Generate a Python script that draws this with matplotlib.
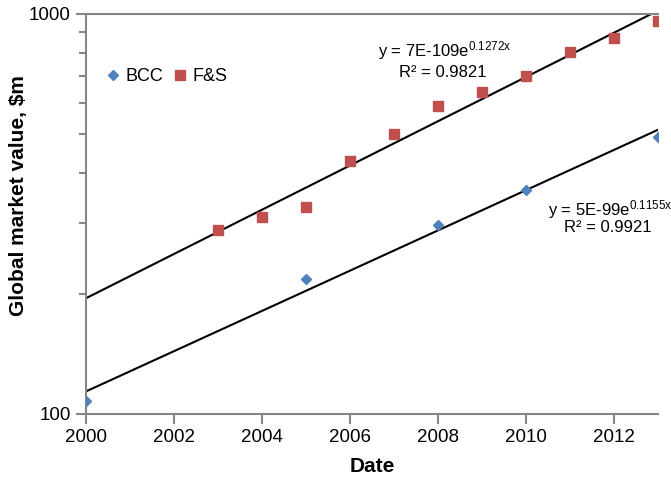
import numpy as np
import matplotlib
matplotlib.use("Agg")
import matplotlib.pyplot as plt
from matplotlib.ticker import LogLocator, FixedLocator, NullFormatter, FixedFormatter

plt.rcParams['font.family'] = ['Liberation Sans', 'DejaVu Sans']
plt.rcParams['mathtext.fontset'] = 'custom'
plt.rcParams['mathtext.rm'] = 'Liberation Sans'
plt.rcParams['mathtext.it'] = 'Liberation Sans'

# data
bcc_years = [2000, 2005, 2008, 2010, 2013]
bcc_values = [108, 217, 297, 363, 491]
fs_years = [2003, 2004, 2005, 2006, 2007, 2008, 2009, 2010, 2011, 2012, 2013]
fs_values = [289, 310, 330, 430, 500, 590, 639, 700, 802, 869, 961]

blue = "#4F81BD"
red = "#C0504D"
grey = "#868686"

fig = plt.figure(figsize=(6.71, 4.79), dpi=100)
ax = fig.add_axes([0.128, 0.1357, 0.853, 0.8353])

ax.plot(bcc_years, bcc_values, "D", color=blue, ms=5.5, label="BCC", zorder=3)
ax.plot(fs_years, fs_values, "s", color=red, ms=7, label="F&S", zorder=3)

# exponential trendlines (least squares on log values)
xx = np.linspace(2000, 2013, 50)
for yrs, vals in [(bcc_years, bcc_values), (fs_years, fs_values)]:
    b, a = np.polyfit(yrs, np.log(vals), 1)
    ax.plot(xx, np.exp(a + b * xx), color="black", lw=1.5, zorder=2)

ax.text(2008.16, 810, "y = 7E-109e$^{0.1272x}$", ha="center", va="center", fontsize=12)
ax.text(2008.1, 712, "R² = 0.9821", ha="center", va="center", fontsize=12)
ax.text(2011.9, 324, "y = 5E-99e$^{0.1155x}$", ha="center", va="center", fontsize=12)
ax.text(2011.85, 292, "R² = 0.9921", ha="center", va="center", fontsize=12)

ax.set_yscale("log")
ax.set_xlim(2000, 2013)
ax.set_ylim(100, 1000)
ax.xaxis.set_major_locator(FixedLocator(range(2000, 2013, 2)))
ax.yaxis.set_major_locator(FixedLocator([100, 1000]))
ax.yaxis.set_major_formatter(FixedFormatter(["100", "1000"]))
ax.yaxis.set_minor_locator(LogLocator(base=10, subs=range(2, 10)))
ax.yaxis.set_minor_formatter(NullFormatter())

for s in ["left", "bottom", "top"]:
    ax.spines[s].set_color(grey)
    ax.spines[s].set_linewidth(1.5)
ax.spines["right"].set_visible(False)
ax.tick_params(axis="both", which="major", direction="out", length=7, width=1.5,
               color=grey, labelsize=13.5, pad=4)
ax.tick_params(axis="y", which="minor", direction="out", length=5, width=1.5, color=grey)

ax.set_xlabel("Date", fontsize=15, fontweight="bold", labelpad=8)
ax.set_ylabel(r"Global market value, \$m", fontsize=15, fontweight="bold")
ax.yaxis.set_label_coords(-0.101, 0.545)

ax.legend(loc="upper left", bbox_to_anchor=(0.0, 0.905), ncol=2, frameon=False,
          fontsize=13, handletextpad=0.1, columnspacing=0.3, handlelength=1.2,
          numpoints=1)

fig.savefig("out.png", dpi=100)
